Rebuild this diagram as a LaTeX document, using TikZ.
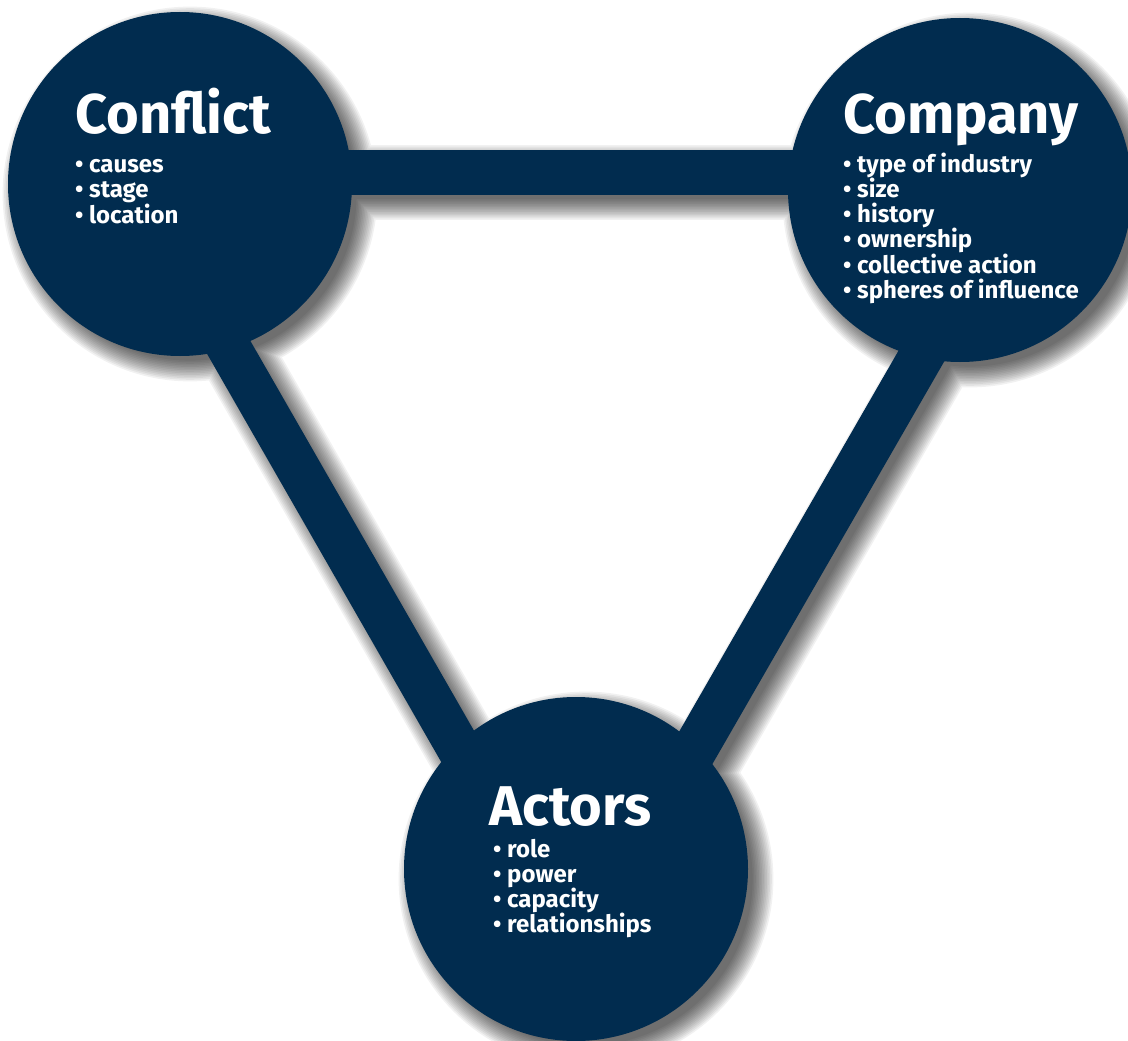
\documentclass[tikz,border=0pt]{standalone}
\usepackage{fontspec}
\setmainfont{Fira Sans}
\usetikzlibrary{calc}
\definecolor{navy}{RGB}{1,44,79}
\pgfdeclarelayer{bg}
\pgfsetlayers{bg,main}
\begin{document}
\begin{tikzpicture}[x=1pt,y=-1pt,
  hub/.style={circle, fill=navy, minimum size=344pt, inner sep=0pt},
  title/.style={anchor=base west, inner sep=0pt, text=white, font=\fontsize{56}{56}\selectfont\bfseries},
  item/.style={anchor=base west, inner sep=0pt, text=white, font=\fontsize{24}{24}\selectfont\bfseries},
  link/.style={draw=navy, line width=44pt},
]
\useasboundingbox (0,0) rectangle (1128,1041);

% hubs
\node[hub] (conflict) at (180,184) {};
\node[hub] (company) at (960,190) {};
\node[hub] (actors) at (576,869) {};

% connector ends (hidden under the hubs)
\coordinate (h1) at (250,172.5);
\coordinate (h2) at (890,172.5);
\coordinate (l1) at (135,184);
\coordinate (l2) at (528,869);
\coordinate (r1) at (1017,190);
\coordinate (r2) at (626,869);

\begin{pgfonlayer}{bg}
  \fill[white] (0,0) rectangle (1128,1041);
  % soft drop shadow
  \foreach \k in {1,...,14}{
    \pgfmathsetmacro{\sp}{-7+1.6*\k}
    \pgfmathsetmacro{\rr}{172+\sp}
    \pgfmathsetmacro{\ww}{44+2*\sp}
    \begin{scope}[transparency group, opacity=0.055]
      \fill[black] ($(conflict.center)+(10,10)$) circle[radius=\rr];
      \fill[black] ($(company.center)+(10,10)$) circle[radius=\rr];
      \fill[black] ($(actors.center)+(10,10)$) circle[radius=\rr];
      \draw[black, line width=\ww pt] ($(h1)+(10,10)$) -- ($(h2)+(10,10)$);
      \draw[black, line width=\ww pt] ($(l1)+(10,10)$) -- ($(l2)+(10,10)$);
      \draw[black, line width=\ww pt] ($(r1)+(10,10)$) -- ($(r2)+(10,10)$);
    \end{scope}
  }
  % connectors
  \draw[link, line width=45pt] (h1) -- (h2);
  \draw[link] (l1) -- (l2);
  \draw[link, line width=45pt] (r1) -- (r2);
\end{pgfonlayer}

% texts
\node[title] (conflictT) at (75,133) {Conflict};
\node[item] (cf1) at (75,172) {• causes};
\node[item] (cf2) at (75,197.5) {• stage};
\node[item] (cf3) at (75,223) {• location};

\node[title] (companyT) at (843,133) {Company};
\node[item] (cp1) at (843,172) {• type of industry};
\node[item] (cp2) at (843,197.3) {• size};
\node[item] (cp3) at (843,222.6) {• history};
\node[item] (cp4) at (843,247.9) {• ownership};
\node[item] (cp5) at (843,273.2) {• collective action};
\node[item] (cp6) at (843,298.5) {• spheres of influence};

\node[title] (actorsT) at (489,825) {Actors};
\node[item] (ac1) at (493,857) {• role};
\node[item] (ac2) at (493,882.3) {• power};
\node[item] (ac3) at (493,907.6) {• capacity};
\node[item] (ac4) at (493,932.9) {• relationships};
\end{tikzpicture}
\end{document}
